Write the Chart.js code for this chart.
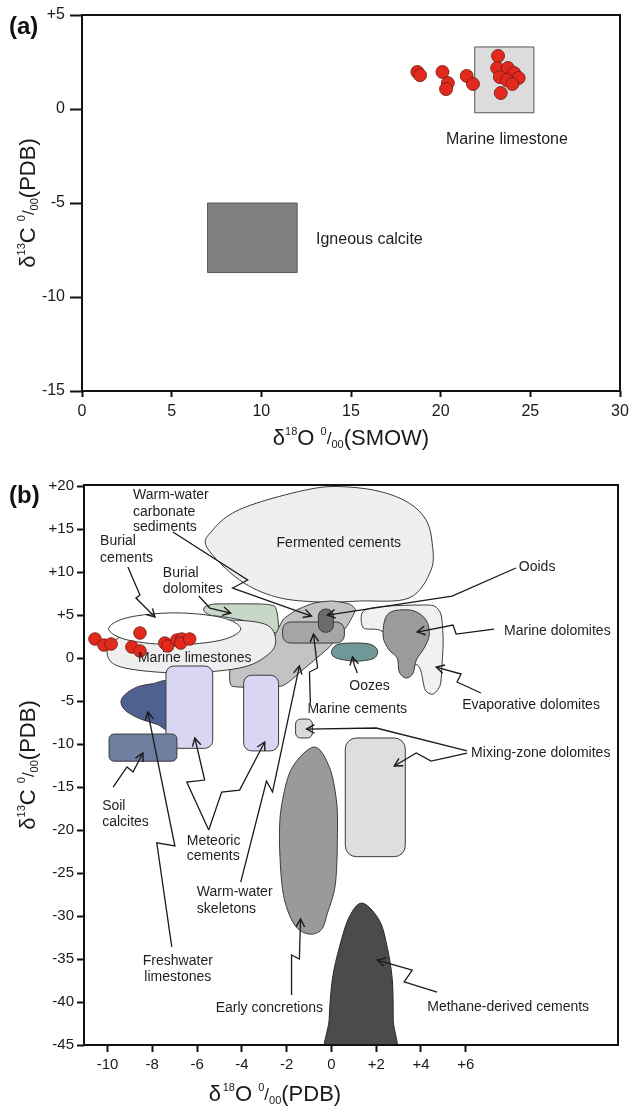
<!DOCTYPE html>
<html><head><meta charset="utf-8">
<script src="https://cdn.jsdelivr.net/npm/chart.js@4.4.1/dist/chart.umd.min.js"></script>
<style>
html,body{margin:0;padding:0;background:#fff;}
#wrapA{position:absolute;left:0;top:0;width:629px;height:460px;}
#wrapB{position:absolute;left:0;top:460px;width:629px;height:650px;}
canvas{display:block;}
</style></head><body>
<div id="wrapA"><canvas id="cA" width="629" height="460"></canvas></div>
<div id="wrapB"><canvas id="cB" width="629" height="650"></canvas></div>
<script>
// ---------------- Panel (a) data ----------------
const aXTicks = [0, 5, 10, 15, 20, 25, 30];
const aYTicks = [5, 0, -5, -10, -15];
const aPointsX = [18.7, 18.85, 20.1, 20.4, 20.3, 21.45, 21.8, 23.2, 23.15, 23.75, 24.1, 23.3, 23.7, 24.35, 24.0, 23.35];
const aPointsY = [1.97, 1.8, 1.97, 1.38, 1.06, 1.76, 1.33, 2.82, 2.18, 2.18, 1.91, 1.7, 1.54, 1.65, 1.33, 0.85];
const marineLimestoneField = [21.9, 25.2, -0.2, 3.3];   // x0, x1, y0, y1
const igneousCalciteField = [7.0, 12.0, -8.7, -5.0];
const aLabels = [['Marine limestone', 20.3, -1.65], ['Igneous calcite', 13.05, -6.97]];

// ---------------- Panel (b) data ----------------
const bXTicks = [-10, -8, -6, -4, -2, 0, 2, 4, 6];
const bYTicks = [20, 15, 10, 5, 0, -5, -10, -15, -20, -25, -30, -35, -40, -45];
const bPointsX = [-10.56, -10.16, -9.84, -8.91, -8.55, -8.55, -7.44, -7.31, -6.9, -6.68, -6.73, -6.33];
const bPointsY = [2.21, 1.51, 1.63, 1.28, 2.91, 0.81, 1.74, 1.4, 2.09, 2.21, 1.74, 2.21];

const fermentedCements = [[-5.57,12.91],[-5.30,14.88],[-4.41,16.86],[-2.90,18.37],[-0.67,19.77],[0.80,19.88],[2.27,19.30],[3.47,18.02],[4.23,16.05],[4.50,13.37],[4.45,10.23],[3.47,6.98],[1.25,6.63],[-0.53,6.51],[-2.45,7.09],[-4.10,9.07]];
const burialDolomites = [[-5.66,5.93],[-5.21,6.28],[-3.12,6.28],[-2.54,6.05],[-2.41,5.0],[-2.36,2.91],[-2.85,3.26],[-3.43,3.95],[-4.01,4.42],[-4.77,4.77],[-5.43,5.0],[-5.70,5.47]];
const marineCementZone = [[-4.45,-3.26],[-2.23,-3.26],[-1.29,-1.40],[-0.09,1.28],[0.67,3.60],[1.07,5.58],[0.80,6.28],[0.04,6.63],[-0.76,6.40],[-1.56,5.58],[-2.14,4.53],[-2.45,3.02],[-2.85,1.16],[-3.65,0.23],[-4.45,-0.23]];
const warmWaterSedimentField = [-2.18, 0.58, 1.74, 4.19];
const ooidsField = [-0.58, 0.09, 3.0, 5.7];
const marineLimestones = [[-9.98,0.12],[-9.22,-1.16],[-6.77,-1.74],[-4.10,-1.16],[-2.85,0.35],[-2.49,2.09],[-2.98,3.95],[-4.99,4.42],[-7.66,3.84],[-9.67,2.09]];
const burialCements = [[-4.05,3.4],[-4.91,4.71],[-7.0,5.25],[-9.09,4.71],[-9.95,3.4],[-9.09,2.09],[-7.0,1.55],[-4.91,2.09]];
const evaporativeDolomites = [[1.34,5.0],[1.60,5.70],[2.58,6.05],[3.92,6.16],[4.59,6.05],[4.90,5.0],[4.99,2.09],[4.94,-0.81],[4.86,-3.14],[4.54,-4.19],[4.19,-3.72],[4.01,-1.63],[3.83,-0.81],[3.25,-0.23],[2.81,2.09],[2.14,3.26],[1.43,3.49]];
const marineDolomites = [[3.03,5.58],[3.70,5.47],[4.23,4.42],[4.37,2.67],[4.14,1.16],[3.79,-0.23],[3.65,-1.74],[3.34,-2.33],[3.03,-1.63],[2.94,0],[2.58,0.93],[2.32,2.33],[2.36,4.19],[2.58,5.23]];
const oozes = [[0,0.70],[0.22,1.51],[0.80,1.74],[1.69,1.63],[2.05,0.93],[1.92,0],[1.25,-0.35],[0.58,-0.23],[0.13,0.12]];
const freshwaterLimestones = [[-7.2,-3.0],[-8.0,-3.0],[-8.7,-3.4],[-9.2,-4.2],[-9.4,-5.1],[-9.2,-6.1],[-8.6,-7.0],[-7.8,-7.7],[-7.2,-8.1]];
const meteoricField1 = [-7.39, -5.3, -10.5, -0.93];
const meteoricField2 = [-3.92, -2.36, -10.8, -2.0];
const soilCalciteField = [-9.93, -6.9, -12.0, -8.84];
const marineCementSmallField = [-1.6, -0.85, -9.3, -7.1];
const mixingZoneField = [0.62, 3.3, -23.1, -9.3];
const earlyConcretions = [[-0.76,-10.35],[-0.09,-12.7],[0.22,-16.5],[0.27,-20.3],[0.18,-26.2],[-0.18,-29.7],[-0.45,-31.6],[-0.98,-32.1],[-1.56,-31.3],[-2.0,-29.0],[-2.23,-25.8],[-2.32,-20.3],[-2.18,-16.5],[-1.74,-12.7]];
const methaneCements = [[-0.15,-47],[-0.1,-42],[0.04,-37.4],[0.36,-33.6],[0.8,-30.1],[1.38,-28.5],[2.14,-30.5],[2.49,-33.6],[2.72,-37.4],[2.76,-42],[2.76,-47]];

const leaderWarmWaterSediments = [[-7.08,14.65],[-3.74,9.07],[-4.41,8.14],[-0.89,4.88]];
const leaderBurialCements = [[-9.09,10.58],[-8.55,7.33],[-8.73,6.98],[-7.88,4.77]];
const leaderBurialDolomites = [[-5.92,7.21],[-5.43,5.81],[-4.50,5.23]];
const leaderOoids = [[8.24,10.47],[5.39,7.21],[-0.18,5.0]];
const leaderMarineDolomites = [[7.26,3.37],[5.57,2.79],[5.43,3.84],[3.83,3.02]];
const leaderEvaporative = [[6.68,-4.07],[5.61,-2.79],[5.79,-1.86],[4.68,-1.05]];
const leaderOozes = [[1.16,-1.74],[1.02,-0.81],[0.94,0.12]];
const leaderMarineCements = [[-0.94,-5.23],[-0.98,-1.63],[-0.62,-1.16],[-0.80,2.79]];
const leaderWarmWaterSkeletons = [[-4.05,-26.05],[-2.90,-14.30],[-2.63,-15.58],[-1.43,-0.93]];
const leaderMixingA = [[6.06,-10.81],[2.0,-8.14],[-1.11,-8.26]];
const leaderMixingB = [[6.06,-11.05],[4.45,-11.98],[3.79,-11.05],[2.81,-12.56]];
const leaderMethane = [[4.72,-38.84],[3.25,-37.67],[3.61,-36.28],[2.05,-35.12]];
const leaderEarlyConcretions = [[-1.78,-39.19],[-1.78,-34.53],[-1.43,-35.0],[-1.38,-30.35]];
const leaderFreshwater = [[-7.13,-33.6],[-7.80,-21.5],[-6.99,-21.86],[-8.2,-6.28]];
const leaderSoil = [[-9.75,-15.0],[-9.13,-12.67],[-8.86,-13.26],[-8.42,-11.05]];
const leaderMeteoricA = [[-5.48,-20.0],[-6.46,-14.42],[-5.66,-14.19],[-6.10,-9.30]];
const leaderMeteoricB = [[-5.48,-20.0],[-4.90,-15.58],[-4.10,-15.35],[-2.98,-9.77]];

const bLabels = [
 ['Warm-water', -8.86, 18.95], ['carbonate', -8.86, 16.98], ['sediments', -8.86, 15.23],
 ['Burial', -10.33, 13.6], ['cements', -10.33, 11.63],
 ['Burial', -7.53, 9.88], ['dolomites', -7.53, 8.02],
 ['Fermented cements', -2.45, 13.37],
 ['Ooids', 8.37, 10.58],
 ['Marine dolomites', 7.71, 3.14],
 ['Marine limestones', -8.64, 0],
 ['Oozes', 0.80, -3.26],
 ['Evaporative dolomites', 5.84, -5.47],
 ['Marine cements', -1.07, -5.93],
 ['Mixing-zone dolomites', 6.24, -11.05],
 ['Soil', -10.24, -17.21], ['calcites', -10.24, -19.07],
 ['Meteoric', -6.46, -21.28], ['cements', -6.46, -23.02],
 ['Warm-water', -6.01, -27.21], ['skeletons', -6.01, -29.19],
 ['Freshwater', -6.86, -35.23, 'center'], ['limestones', -6.86, -37.09, 'center'],
 ['Early concretions', -5.17, -40.70],
 ['Methane-derived cements', 4.28, -40.58]
];

// ---------------- helpers ----------------
const FONT = '"Liberation Sans", Arial, Helvetica, sans-serif';
Chart.defaults.font.family = FONT;
Chart.defaults.color = '#1a1a1a';
const signed = v => (v > 0 ? '+' + v : String(v));
const plain = v => String(v);

function smoothClosed(ctx, pts, k) {
  const n = pts.length;
  ctx.moveTo(pts[0].x, pts[0].y);
  for (let i = 0; i < n; i++) {
    const p0 = pts[(i - 1 + n) % n], p1 = pts[i], p2 = pts[(i + 1) % n], p3 = pts[(i + 2) % n];
    ctx.bezierCurveTo(p1.x + (p2.x - p0.x) * k / 6, p1.y + (p2.y - p0.y) * k / 6,
                      p2.x - (p3.x - p1.x) * k / 6, p2.y - (p3.y - p1.y) * k / 6, p2.x, p2.y);
  }
  ctx.closePath();
}
function roundRectPath(ctx, x0, y0, x1, y1, r) {
  const l = Math.min(x0, x1), rr = Math.max(x0, x1), t = Math.min(y0, y1), b = Math.max(y0, y1);
  r = Math.min(r, (rr - l) / 2, (b - t) / 2);
  ctx.moveTo(l + r, t);
  ctx.lineTo(rr - r, t); ctx.arcTo(rr, t, rr, t + r, r);
  ctx.lineTo(rr, b - r); ctx.arcTo(rr, b, rr - r, b, r);
  ctx.lineTo(l + r, b); ctx.arcTo(l, b, l, b - r, r);
  ctx.lineTo(l, t + r); ctx.arcTo(l, t, l + r, t, r);
  ctx.closePath();
}
function makeShapesPlugin(id, list) {
  return {
    id,
    beforeDatasetsDraw(chart) {
      const {ctx, chartArea: a, scales: {x, y}} = chart;
      ctx.save();
      ctx.beginPath(); ctx.rect(a.left, a.top, a.right - a.left, a.bottom - a.top); ctx.clip();
      for (const s of list) {
        ctx.beginPath();
        if (s.rect) {
          const [x0, x1, y0, y1] = s.rect;
          roundRectPath(ctx, x.getPixelForValue(x0), y.getPixelForValue(y0), x.getPixelForValue(x1), y.getPixelForValue(y1), s.r || 0);
        } else {
          const pts = s.pts.map(p => ({x: x.getPixelForValue(p[0]), y: y.getPixelForValue(p[1])}));
          smoothClosed(ctx, pts, s.k == null ? 1 : s.k);
        }
        ctx.fillStyle = s.fill; ctx.fill();
        ctx.lineWidth = s.lw || 1; ctx.strokeStyle = s.stroke || '#3a3a3a'; ctx.stroke();
      }
      ctx.restore();
    }
  };
}
function makeOverlayPlugin(id, labels, fontSize, panelLetter, letterY, titles) {
  return {
    id,
    afterDatasetsDraw(chart) {
      const {ctx, chartArea: a, scales: {x, y}} = chart;
      ctx.save();
      chart.data.datasets.forEach((ds, i) => {
        if (!ds.arrow) return;
        const pts = chart.getDatasetMeta(i).data;
        const p = pts[pts.length - 1], q = pts[pts.length - 2];
        const ang = Math.atan2(p.y - q.y, p.x - q.x);
        ctx.beginPath();
        ctx.moveTo(p.x - 9 * Math.cos(ang - 0.5), p.y - 9 * Math.sin(ang - 0.5));
        ctx.lineTo(p.x, p.y);
        ctx.lineTo(p.x - 9 * Math.cos(ang + 0.5), p.y - 9 * Math.sin(ang + 0.5));
        ctx.strokeStyle = '#1a1a1a'; ctx.lineWidth = 1.4; ctx.stroke();
      });
      ctx.strokeStyle = '#111'; ctx.lineWidth = 2;
      ctx.strokeRect(a.left, a.top, a.right - a.left, a.bottom - a.top);
      ctx.fillStyle = '#1e1e1e';
      ctx.font = fontSize + 'px ' + FONT;
      ctx.textBaseline = 'middle';
      for (const l of labels) {
        ctx.textAlign = l[3] || 'left';
        ctx.fillText(l[0], x.getPixelForValue(l[1]), y.getPixelForValue(l[2]));
      }
      ctx.font = 'bold 24px ' + FONT; ctx.textAlign = 'left'; ctx.fillStyle = '#111';
      ctx.fillText(panelLetter, 9, letterY);
      ctx.fillStyle = '#1a1a1a';
      drawRich(ctx, titles.x, titles.xx(a), titles.xy(a), false);
      drawRich(ctx, titles.y, 27, (a.top + a.bottom) / 2, true);
      ctx.restore();
    }
  };
}
function drawRich(ctx, segs, cx, cy, rot) {
  ctx.save();
  ctx.translate(cx, cy);
  if (rot) ctx.rotate(-Math.PI / 2);
  let w = 0;
  const ms = segs.map(s => { ctx.font = s[1] + 'px ' + FONT; const m = ctx.measureText(s[0]).width; w += m; return m; });
  let xx = -w / 2;
  ctx.textBaseline = 'alphabetic'; ctx.textAlign = 'left';
  segs.forEach((s, i) => { ctx.font = s[1] + 'px ' + FONT; ctx.fillText(s[0], xx, 8 + s[2]); xx += ms[i]; });
  ctx.restore();
}
const titleXA = [['δ',22,0],['18',11,-10],['O',22,0],[' ',22,0],['0',11,-10],['/',17,-1],['00',11,3],['(SMOW)',22,0]];
const titleYA = [['δ',22,0],['13',11,-10],['C',22,0],[' ',22,0],['0',11,-10],['/',17,-1],['00',11,3],['(PDB)',22,0]];
const titleXB = [['δ',22,0],[' ',6,0],['18',11,-10],['O',22,0],[' ',22,0],['0',11,-10],['/',17,-1],['00',11,3],['(PDB)',22,0]];
const titleYB = titleYA;

function axisOpts(min, max, tickVals, tickLen, pad, fit, isX, fmt, size) {
  return {
    type: 'linear', min, max,
    afterBuildTicks: s => { s.ticks = tickVals.map(v => ({value: v})); },
    ticks: {font: {size: size}, padding: pad, maxRotation: 0, autoSkip: false, color: '#1a1a1a', callback: v => fmt(v)},
    grid: {display: true, drawOnChartArea: false, drawTicks: true, tickLength: tickLen, tickWidth: 2, tickColor: '#111'},
    border: {display: false},
    afterFit: s => {
      if (isX) { s.height = fit; s.paddingRight = 0; s.paddingLeft = 0; }
      else { s.width = fit; }
    }
  };
}
const toXY = (xs, ys) => xs.map((v, i) => ({x: v, y: ys[i]}));
const pts = arr => arr.map(p => ({x: p[0], y: p[1]}));

// ---------------- Chart (a) ----------------
const shapesA = makeShapesPlugin('shapesA', [
  {rect: marineLimestoneField, fill: '#dcdcdc', stroke: '#555'},
  {rect: igneousCalciteField, fill: '#808080', stroke: '#5a5a5a'}
]);
const overlayA = makeOverlayPlugin('overlayA', aLabels, 16, '(a)', 27,
  {x: titleXA, y: titleYA, xx: a => (a.left + a.right) / 2, xy: a => a.bottom + 46});
new Chart(document.getElementById('cA'), {
  type: 'scatter',
  data: {datasets: [{data: toXY(aPointsX, aPointsY), pointRadius: 6.5, backgroundColor: '#e2291c', borderColor: '#6a1c14', borderWidth: 0.8}]},
  options: {
    responsive: false, animation: false, events: [],
    layout: {padding: {top: 15, right: 9, left: 0, bottom: 0}},
    plugins: {legend: {display: false}, tooltip: {enabled: false}},
    scales: {
      x: axisOpts(0, 30, aXTicks, 6, 5, 69, true, plain, 16),
      y: axisOpts(-15, 5, aYTicks, 12, 5, 82, false, signed, 16)
    }
  },
  plugins: [shapesA, overlayA]
});

// ---------------- Chart (b) ----------------
const shapesB = makeShapesPlugin('shapesB', [
  {pts: fermentedCements, fill: '#efefef', k: 1},
  {pts: burialDolomites, fill: '#c7d8c8', k: 0.5},
  {pts: marineCementZone, fill: '#c3c3c3', k: 0.5},
  {rect: warmWaterSedimentField, fill: '#a6a6a6', r: 8},
  {rect: ooidsField, fill: '#6c6c6c', r: 7},
  {pts: marineLimestones, fill: '#efefef', k: 1},
  {pts: burialCements, fill: '#ffffff', k: 1},
  {pts: evaporativeDolomites, fill: '#f1f1f1', k: 0.8},
  {pts: marineDolomites, fill: '#9b9b9b', k: 1},
  {pts: oozes, fill: '#6f9998', k: 1},
  {pts: freshwaterLimestones, fill: '#4f6190', k: 1},
  {rect: meteoricField1, fill: '#d9d6f3', r: 8},
  {rect: meteoricField2, fill: '#d9d6f3', r: 8},
  {rect: soilCalciteField, fill: '#6f7fa0', r: 5},
  {rect: marineCementSmallField, fill: '#d9d9d9', r: 5},
  {rect: mixingZoneField, fill: '#dedede', r: 11},
  {pts: earlyConcretions, fill: '#9a9a9a', k: 1},
  {pts: methaneCements, fill: '#4b4b4b', k: 1, stroke: '#2a2a2a'}
]);
const overlayB = makeOverlayPlugin('overlayB', bLabels, 14, '(b)', 36,
  {x: titleXB, y: titleYB, xx: a => a.left + 191, xy: a => a.bottom + 48});

const leaders = [leaderWarmWaterSediments, leaderBurialCements, leaderBurialDolomites, leaderOoids, leaderMarineDolomites,
  leaderEvaporative, leaderOozes, leaderMarineCements, leaderWarmWaterSkeletons, leaderMixingA, leaderMixingB,
  leaderMethane, leaderEarlyConcretions, leaderFreshwater, leaderSoil, leaderMeteoricA, leaderMeteoricB];

new Chart(document.getElementById('cB'), {
  type: 'scatter',
  data: {datasets: [
    {data: toXY(bPointsX, bPointsY), pointRadius: 6.3, backgroundColor: '#e2291c', borderColor: '#6a1c14', borderWidth: 0.8}
  ].concat(leaders.map(l => ({data: pts(l), showLine: true, pointRadius: 0, borderColor: '#1a1a1a', borderWidth: 1.3, tension: 0, fill: false, arrow: true})))},
  options: {
    responsive: false, animation: false, events: [],
    layout: {padding: {top: 25, right: 11, left: 0, bottom: 0}},
    plugins: {legend: {display: false}, tooltip: {enabled: false}},
    scales: {
      x: axisOpts(-11.05, 12.8, bXTicks, 7, 4, 65, true, signed, 15),
      y: axisOpts(-45, 20.12, bYTicks, 7, 3, 84, false, signed, 15)
    }
  },
  plugins: [shapesB, overlayB]
});
</script></body></html>
